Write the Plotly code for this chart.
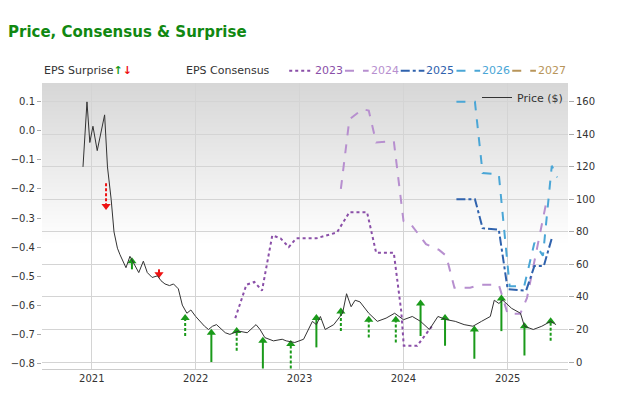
import plotly.graph_objects as go

# price ($), right axis
price_dates = ["2020-12-01", "2020-12-15", "2020-12-25", "2021-01-05", "2021-01-20", "2021-02-01",
               "2021-02-15", "2021-02-25", "2021-03-10", "2021-03-20", "2021-04-01", "2021-04-10",
               "2021-04-20", "2021-05-01", "2021-05-15", "2021-06-01", "2021-06-15", "2021-07-01",
               "2021-07-15", "2021-08-01", "2021-08-20", "2021-09-01", "2021-09-15", "2021-10-01",
               "2021-10-15", "2021-11-01", "2021-11-15", "2021-12-01", "2021-12-15", "2022-01-01",
               "2022-02-01", "2022-02-15", "2022-03-01", "2022-03-15", "2022-04-15", "2022-05-01",
               "2022-06-01", "2022-07-01", "2022-08-01", "2022-08-15", "2022-09-01", "2022-10-01",
               "2022-11-01", "2022-11-15", "2022-12-15", "2023-01-15", "2023-02-15", "2023-03-01",
               "2023-03-15", "2023-04-01", "2023-05-01", "2023-06-01", "2023-06-15", "2023-07-01",
               "2023-07-15", "2023-08-01", "2023-09-01", "2023-10-01", "2023-11-01", "2023-12-01",
               "2024-01-01", "2024-02-01", "2024-03-01", "2024-04-01", "2024-05-01", "2024-06-01",
               "2024-07-01", "2024-08-01", "2024-09-01", "2024-10-01", "2024-11-01", "2024-11-15",
               "2024-12-01", "2024-12-15", "2025-01-15", "2025-02-15", "2025-03-01", "2025-04-01",
               "2025-05-01", "2025-06-01", "2025-06-20"]
price_vals = [120, 160, 135, 145, 130, 140,
              152, 120, 100, 80, 70, 66,
              62, 58, 65, 60, 55, 62,
              55, 52, 53, 50, 48, 47,
              48, 45, 35, 30, 32, 28,
              22, 20, 22, 23, 18, 17,
              19, 18, 23, 20, 15, 13,
              14, 13, 12, 14, 25, 23,
              28, 20, 23, 30, 42, 34,
              38, 37, 30, 25, 27, 30,
              26, 28, 25, 20, 28, 26,
              25, 23, 22, 25, 28, 38,
              36, 38, 33, 30, 22, 20,
              22, 25, 23]

# EPS consensus, left axis
c2023_dates = ["2022-05-20", "2022-06-28", "2022-07-26", "2022-08-22", "2022-09-27", "2022-10-26",
               "2022-11-24", "2022-12-20", "2023-02-28", "2023-05-12", "2023-06-25", "2023-08-26",
               "2023-09-27", "2023-11-28", "2023-12-24", "2024-01-02", "2024-02-18", "2024-04-12"]
c2023_vals = [-0.645, -0.53, -0.52, -0.55, -0.36, -0.37,
              -0.40, -0.37, -0.37, -0.35, -0.28, -0.28,
              -0.42, -0.42, -0.62, -0.74, -0.74, -0.67]
c2024_dates = ["2023-05-26", "2023-06-25", "2023-08-10", "2023-09-01", "2023-09-27", "2023-11-28",
               "2024-01-01", "2024-01-26", "2024-03-20", "2024-05-05", "2024-05-30", "2024-06-28",
               "2024-08-22", "2024-09-27", "2024-12-01", "2025-01-01", "2025-02-14", "2025-03-10",
               "2025-05-18"]
c2024_vals = [-0.20, 0.04, 0.075, 0.07, -0.04, -0.035,
              -0.31, -0.32, -0.39, -0.41, -0.43, -0.54,
              -0.54, -0.53, -0.53, -0.63, -0.63, -0.575,
              -0.24]
c2025_dates = ["2024-07-05", "2024-09-08", "2024-10-05", "2024-12-01", "2025-01-01", "2025-03-07",
               "2025-04-05", "2025-05-08", "2025-06-05", "2025-06-12"]
c2025_vals = [-0.235, -0.235, -0.335, -0.34, -0.545, -0.55,
              -0.465, -0.465, -0.37, -0.37]
c2026_dates = ["2024-07-05", "2024-09-08", "2024-10-05", "2024-12-01", "2025-01-08", "2025-02-28",
               "2025-04-05", "2025-05-05", "2025-06-05", "2025-06-24"]
c2026_vals = [0.10, 0.10, -0.145, -0.15, -0.535, -0.535,
              -0.385, -0.43, -0.12, -0.16]

# EPS surprise arrows, drawn on the price axis: date, base, tip, dashed?
up_dates = ["2021-05-22", "2021-11-25", "2022-02-25", "2022-05-25", "2022-08-25", "2022-12-01",
            "2023-03-01", "2023-05-26", "2023-09-01", "2023-12-05", "2024-03-01", "2024-05-26",
            "2024-09-06", "2024-12-10", "2025-03-01", "2025-06-01"]
up_base = [57, 16, 0, 7, -4, -4, 9, 19, 15, 12, 16, 10, 2, 19, 4, 13]
up_tip = [62, 27, 18, 19, 13, 11, 27, 31, 26, 26, 36, 27, 20, 39, 22, 25]
up_dashed = [False, True, False, True, False, True, False, True, True, True, False, False,
             False, False, False, True]
down_dates = ["2021-02-20", "2021-08-25"]
down_base = [110, 57]
down_tip = [96, 54]

GREEN = "#1a9a1a"
RED = "#ee1111"

fig = go.Figure()

# soft gradient background of the plot area
for i in range(40):
    fig.add_shape(type="rect", xref="paper", yref="paper", x0=0, x1=1,
                  y0=1 - (i + 1) * 0.014, y1=1, fillcolor="#d0d0d0", opacity=0.02,
                  line_width=0, layer="below")


def arrow_traces(dates, base, tip, dashed, color, symbol):
    for dash_flag in (False, True):
        xs, ys = [], []
        for d, b, t, f in zip(dates, base, tip, dashed):
            if f == dash_flag:
                xs += [d, d, None]
                ys += [b, t, None]
        if xs:
            fig.add_trace(go.Scatter(x=xs, y=ys, yaxis="y2", mode="lines", showlegend=False,
                                     line=dict(color=color, width=2,
                                               dash="3px,2px" if dash_flag else "solid"),
                                     hoverinfo="skip"))
    fig.add_trace(go.Scatter(x=dates, y=tip, yaxis="y2", mode="markers", showlegend=False,
                             marker=dict(symbol=symbol, size=8, color=color), hoverinfo="skip"))


arrow_traces(up_dates, up_base, up_tip, up_dashed, GREEN, "triangle-up")
arrow_traces(down_dates, down_base, down_tip, [True, False], RED, "triangle-down")

fig.add_trace(go.Scatter(x=price_dates, y=price_vals, yaxis="y2", mode="lines", name="Price ($)",
                         line=dict(color="#333333", width=1)))

series = [("2023", c2023_dates, c2023_vals, "#8a4fa8", "dot"),
          ("2024", c2024_dates, c2024_vals, "#b78fcf", "dash"),
          ("2025", c2025_dates, c2025_vals, "#2f62ad", "dashdot"),
          ("2026", c2026_dates, c2026_vals, "#4aa6d6", "dash"),
          ("2027", [], [], "#b8955a", "dash")]
for name, xs, ys, color, dash in series:
    fig.add_trace(go.Scatter(x=xs, y=ys, mode="lines", name=name, showlegend=False,
                             line=dict(color=color, width=2, dash=dash)))

fig.update_layout(
    width=620, height=419,
    margin=dict(l=34, r=60, t=75, b=58),
    paper_bgcolor="#ffffff", plot_bgcolor="#ffffff",
    font=dict(family="DejaVu Sans", size=11, color="#333333"),
    title=dict(text="<b>Price, Consensus & Surprise</b>", x=0.0, y=0.955, xanchor="left",
               font=dict(size=15, color="#118811", family="DejaVu Sans")),
    xaxis=dict(range=["2020-07-10", "2025-08-01"], showgrid=True, gridcolor="#d4d4d4",
               dtick="M12", tick0="2021-01-01", tickformat="%Y", ticks="", showline=True,
               linecolor="#cccccc", zeroline=False, automargin=False, tickfont=dict(size=10)),
    yaxis=dict(range=[-0.82, 0.165], tickvals=[0.1, 0.0, -0.1, -0.2, -0.3, -0.4, -0.5, -0.6, -0.7, -0.8],
               tickformat=".1f", showgrid=False, ticks="outside", ticklen=4, tickcolor="#aaaaaa",
               zeroline=False, automargin=False, tickfont=dict(size=10)),
    yaxis2=dict(range=[-4.3, 171.6], overlaying="y", side="right", dtick=20, showgrid=True,
                gridcolor="#d4d4d4", ticks="outside", ticklen=5, tickcolor="#aaaaaa", zeroline=False,
                automargin=False, tickfont=dict(size=10)),
    showlegend=True,
    legend=dict(x=1.0, y=1.0, xanchor="right", yanchor="top", bgcolor="rgba(0,0,0,0)",
                font=dict(size=11), itemwidth=30),
)

# header legend, drawn by hand so it stays on one line
fig.add_annotation(xref="paper", yref="paper", x=0.0, y=1.015, xanchor="left", yanchor="bottom",
                   showarrow=False, font=dict(size=11),
                   text="EPS Surprise<b><span style='color:%s'>↑</span><span style='color:%s'>↓</span></b>"
                        % (GREEN, RED))
fig.add_annotation(xref="paper", yref="paper", x=0.27, y=1.015, xanchor="left", yanchor="bottom",
                   showarrow=False, font=dict(size=11), text="EPS Consensus")
x_pos = 0.47
for name, xs, ys, color, dash in series:
    fig.add_shape(type="line", xref="paper", yref="paper", x0=x_pos, x1=x_pos + 0.045,
                  y0=1.043, y1=1.043, line=dict(color=color, width=2, dash=dash))
    fig.add_annotation(xref="paper", yref="paper", x=x_pos + 0.045, y=1.015, xanchor="left",
                       yanchor="bottom", showarrow=False, font=dict(size=11, color=color), text=name)
    x_pos += 0.106

fig.write_html("out.html")
